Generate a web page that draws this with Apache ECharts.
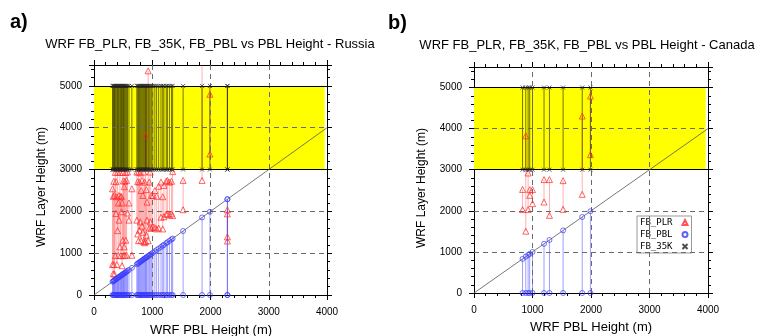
<!DOCTYPE html>
<html><head><meta charset="utf-8">
<script src="https://cdn.jsdelivr.net/npm/echarts@6/dist/echarts.min.js"></script>
<style>html,body{margin:0;padding:0;background:#fff}#c{width:765px;height:336px}</style>
</head><body><div id="c"></div>
<script>
// ---------- Russia (panel a) ----------
const ruPBL = [318,330,340,352,365,378,392,405,418,430,445,458,470,482,495,505,518,530,545,560,575,600,650,
  735,750,765,780,795,810,825,840,855,870,885,898,910,930,948,965,985,
  1010,1045,1075,1110,1150,1180,1200,1240,1260,1295,1330,1350,1530,1855,1990,2290,2290];
const ruPLRlow = [730,510,725,500,940,1950,730,1540,950,1790,1150,940,1990,700,1310,940,1150,950,1310,950,1960,1790,950,
  1790,1460,1300,1550,1750,1300,1650,1500,1270,1250,1280,1430,1790,1300,1600,1750,1600,
  1630,1610,1580,1600,1860,1580,1870,1930,1940,1910,1940,1900,2040,2740,3370,1290,1390];
const ruPLRhigh = [2540,2360,2720,2380,2930,2710,2350,2940,2200,2380,2930,2350,2360,2200,2930,2730,2590,2720,2930,2740,2940,2200,2540,
  2940,2710,2940,2700,2920,2500,2740,2380,2940,2700,3820,2520,2220,5360,2700,2940,2380,
  2380,2500,2360,2600,2700,2350,2620,2720,2740,2700,2720,2950,2740,5800,4800,2040,1940];
const ru35Klow = [3000,3000,3000,3000,3000,3000,3000,3000,3000,3000,3000,3000,3000,3000,3000,3000,3000,3000,3000,3000,3000,3000,3000,
  3000,3000,3000,3000,3000,3000,3000,3000,3000,3000,3000,3000,3000,3000,3000,3000,3000,
  3000,3000,3000,3000,3000,3000,3000,3000,3000,3000,3000,3000,3000,3000,3000,3000,3000];
const ru35Khigh = [5000,5000,5000,5000,5000,5000,5000,5000,5000,5000,5000,5000,5000,5000,5000,5000,5000,5000,5000,5000,5000,5000,5000,
  5000,5000,5000,5000,5000,5000,5000,5000,5000,5000,5000,5000,5000,5000,5000,5000,5000,
  5000,5000,5000,5000,5000,5000,5000,5000,5000,5000,5000,5000,5000,5000,5000,5000,5000];

// ---------- Canada (panel b) ----------
const caPBL = [830,885,925,952,1000,1197,1290,1523,1850,1990];
const caPLRlow = [2030,1505,2030,2377,2175,2214,1890,2036,2401,3367];
const caPLRhigh = [2520,3825,2920,2516,2516,2760,2760,2735,4307,4793];
const ca35Klow = [3000,3000,3000,3000,3000,3000,3000,3000,3000,3000];
const ca35Khigh = [5000,5000,5000,5000,5000,5000,5000,5000,5000,5000];

// ---------- axes / reference values ----------
const xTicks = [0,1000,2000,3000,4000];
const yTicks = [0,1000,2000,3000,4000,5000];
const gridX = [1000,2000,3000];
const gridYdash = [1000,2000,4000];
const bandY = [3000,5000];
const bandX = [0,3960];
const diagLine = [[0,0],[4000,4000]];
const seriesNames = ['FB_PLR','FB_PBL','FB_35K'];
const titles = ['WRF FB_PLR, FB_35K, FB_PBL vs PBL Height - Russia','WRF FB_PLR, FB_35K, FB_PBL vs PBL Height - Canada'];

const FONT = '"Liberation Sans", Arial, Helvetica, sans-serif';
const chart = echarts.init(document.getElementById('c'), null, {renderer:'canvas'});

function xAx(grid, pos, labels) {
  return {type:'value', gridIndex:grid, position:pos, min:xTicks[0], max:xTicks[xTicks.length-1], interval:1000,
    axisLine:{show:true, onZero:false, lineStyle:{color:'#000', width:1}},
    axisTick:{show:true, length:5, lineStyle:{color:'#000', width:1}},
    minorTick:{show:true, splitNumber:5, length:3, lineStyle:{color:'#000', width:1}},
    axisLabel:{show:labels, fontSize:10, color:'#000', margin:12, fontFamily:FONT,
      formatter: v => (xTicks.indexOf(v) >= 0 ? String(v) : '')},
    splitLine:{show:false}, minorSplitLine:{show:false}};
}
function yAx(grid, pos, labels) {
  return {type:'value', gridIndex:grid, position:pos, min:0, max:5500, interval:1000,
    axisLine:{show:true, onZero:false, lineStyle:{color:'#000', width:1}},
    axisTick:{show:true, length:5, lineStyle:{color:'#000', width:1}},
    minorTick:{show:true, splitNumber:5, length:3, lineStyle:{color:'#000', width:1}},
    axisLabel:{show:labels, fontSize:10, color:'#000', margin:12, fontFamily:FONT, showMaxLabel:false,
      formatter: v => (yTicks.indexOf(v) >= 0 ? String(v) : '')},
    splitLine:{show:false}, minorSplitLine:{show:false}};
}

function vline(color, width) {
  return function(params, api) {
    const p1 = api.coord([api.value(0), api.value(1)]);
    const p2 = api.coord([api.value(0), api.value(2)]);
    return {type:'line', shape:{x1:p1[0], y1:p1[1], x2:p2[0], y2:p2[1]},
      style:{stroke:color, lineWidth:width}};
  };
}

const dashed = {color:'#6a6a6a', type:[5,4], width:1};
const solid = {color:'#000', type:'solid', width:1};
const diag = {color:'#555', type:'solid', width:0.8};

const panels = [
  {pbl:ruPBL, lo:ruPLRlow, hi:ruPLRhigh, k1:ru35Klow, k2:ru35Khigh, xi:0, yi:0},
  {pbl:caPBL, lo:caPLRlow, hi:caPLRhigh, k1:ca35Klow, k2:ca35Khigh, xi:2, yi:2}
];

const xSym = 'path://M0,0L10,10M10,0L0,10';
const series = [];
panels.forEach((p) => {
  const ax = {xAxisIndex:p.xi, yAxisIndex:p.yi};
  series.push({type:'scatter', ...ax, data:[], silent:true, z:1,
    markArea:{silent:true, animation:false, itemStyle:{color:'#ffff00'},
      data:[[{coord:[bandX[0], bandY[0]]},{coord:[bandX[1], bandY[1]]}]]}});
  series.push({type:'scatter', ...ax, data:[], silent:true, z:2,
    markLine:{silent:true, symbol:'none', label:{show:false}, animation:false,
      data:[
        ...gridX.map(v => ({xAxis:v, lineStyle:dashed})),
        ...gridYdash.map(v => ({yAxis:v, lineStyle:dashed})),
        ...bandY.map(v => ({yAxis:v, lineStyle:solid})),
        [{coord:diagLine[0], lineStyle:diag},{coord:diagLine[1]}]
      ]}});
  // connecting lines
  series.push({type:'custom', ...ax, z:3, clip:true, silent:true, renderItem:vline('rgba(255,60,60,0.4)',1),
    encode:{x:0, y:[1,2]}, data:p.pbl.map((x,j) => [x, p.lo[j], p.hi[j]])});
  series.push({type:'custom', ...ax, z:3, clip:true, silent:true, renderItem:vline('rgba(40,40,255,0.45)',1),
    encode:{x:0, y:[1,2]}, data:p.pbl.map((x) => [x, 0, x])});
  series.push({type:'custom', ...ax, z:4, clip:true, silent:true, renderItem:vline('rgba(0,0,0,0.55)',1),
    encode:{x:0, y:[1,2]}, data:p.pbl.map((x,j) => [x, p.k1[j], p.k2[j]])});
  // markers
  const red = [], blue = [], blk = [];
  p.pbl.forEach((x,j) => {
    red.push([x, p.lo[j]]); red.push([x, p.hi[j]]);
    blue.push([x, 0]); blue.push([x, x]);
    blk.push([x, p.k1[j]]); blk.push([x, p.k2[j]]);
  });
  series.push({type:'scatter', name:seriesNames[0], ...ax, z:6, clip:true, symbol:'triangle', symbolSize:6,
    itemStyle:{color:'rgba(255,255,255,0)', borderColor:'#ff2a2a', borderWidth:0.9}, data:red});
  series.push({type:'scatter', name:seriesNames[1], ...ax, z:6, clip:true, symbol:'circle', symbolSize:5,
    itemStyle:{color:'rgba(255,255,255,0)', borderColor:'#3a3aff', borderWidth:0.9}, data:blue});
  series.push({type:'scatter', name:seriesNames[2], ...ax, z:6, clip:true, symbol:xSym, symbolSize:4,
    itemStyle:{color:'rgba(0,0,0,0)', borderColor:'#222', borderWidth:0.9}, data:blk});
});

const option = {
  animation:false,
  backgroundColor:'#fff',
  grid:[{left:94, top:65, width:233, height:230}, {left:474, top:67, width:234, height:226}],
  xAxis:[xAx(0,'bottom',true), xAx(0,'top',false), xAx(1,'bottom',true), xAx(1,'top',false)],
  yAxis:[yAx(0,'left',true), yAx(0,'right',false), yAx(1,'left',true), yAx(1,'right',false)],
  legend:{data:seriesNames, orient:'vertical', left:637, top:216, align:'right', itemWidth:5, itemHeight:5,
    itemGap:3, padding:[2,3,2,3], borderColor:'#999', borderWidth:1, backgroundColor:'#fff', selectedMode:false,
    textStyle:{fontSize:9, fontFamily:'"DejaVu Sans Mono", monospace', color:'#000', padding:[0,5,0,0]}},
  graphic:[
    {type:'text', x:10, y:22, style:{text:'a)', font:'bold 20px '+FONT, fill:'#000', textVerticalAlign:'middle'}},
    {type:'text', x:388, y:23, style:{text:'b)', font:'bold 20px '+FONT, fill:'#000', textVerticalAlign:'middle'}},
    {type:'text', x:210, y:44, style:{text:titles[0], font:'13px '+FONT, fill:'#000', textAlign:'center', textVerticalAlign:'middle'}},
    {type:'text', x:587, y:45, style:{text:titles[1], font:'13px '+FONT, fill:'#000', textAlign:'center', textVerticalAlign:'middle'}},
    {type:'text', x:211, y:330, style:{text:'WRF PBL Height (m)', font:'13px '+FONT, fill:'#000', textAlign:'center', textVerticalAlign:'middle'}},
    {type:'text', x:591, y:327, style:{text:'WRF PBL Height (m)', font:'13px '+FONT, fill:'#000', textAlign:'center', textVerticalAlign:'middle'}},
    {type:'text', x:42, y:187, rotation:Math.PI/2, style:{text:'WRF Layer Height (m)', font:'12px '+FONT, fill:'#000', textAlign:'center', textVerticalAlign:'middle'}},
    {type:'text', x:422, y:188, rotation:Math.PI/2, style:{text:'WRF Layer Height (m)', font:'12px '+FONT, fill:'#000', textAlign:'center', textVerticalAlign:'middle'}}
  ],
  series:series
};
chart.setOption(option);
</script></body></html>
